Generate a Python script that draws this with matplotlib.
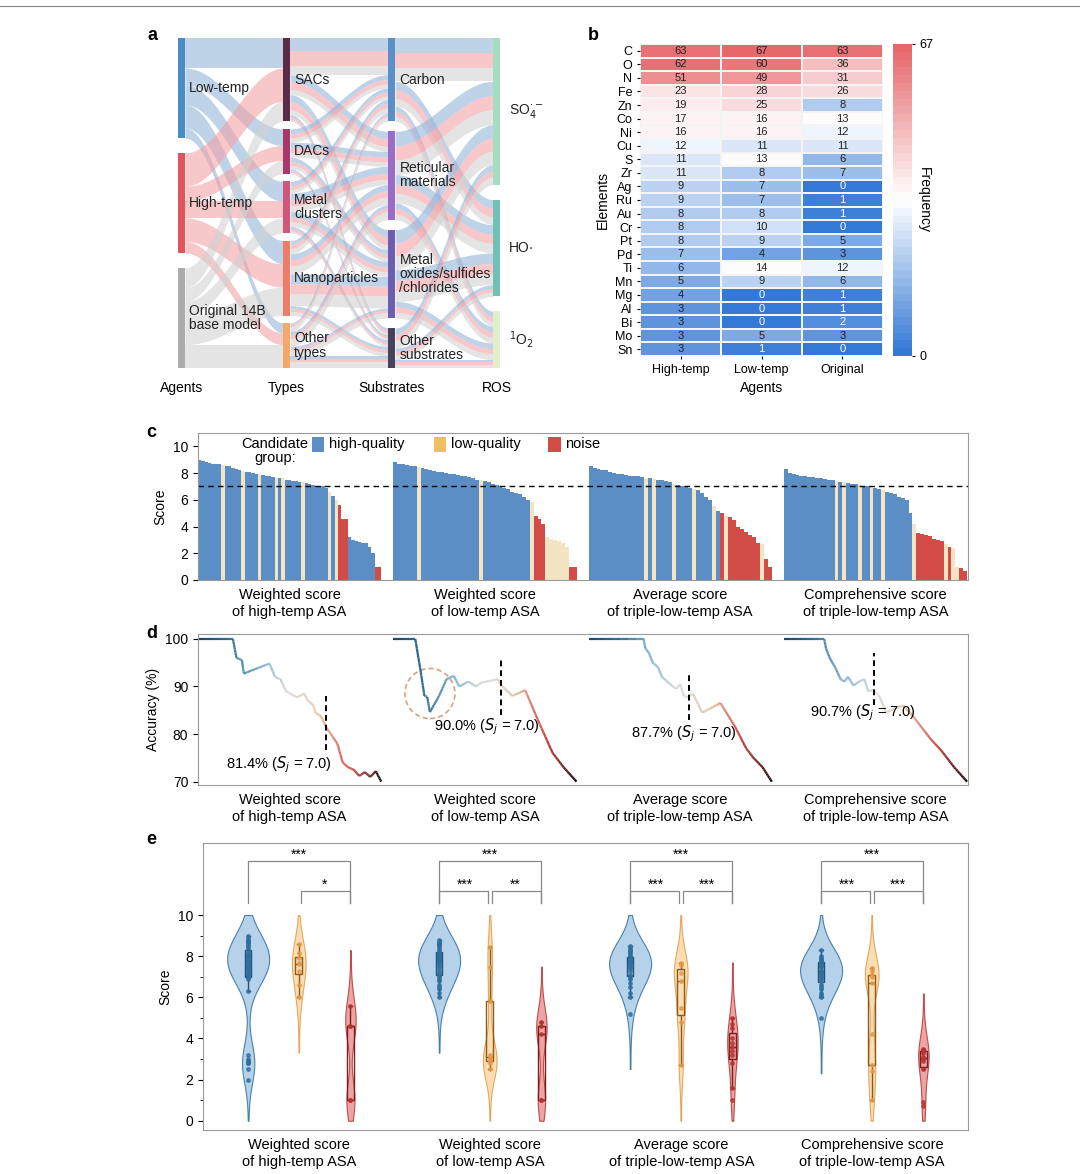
import numpy as np
import matplotlib.pyplot as plt
from matplotlib.collections import LineCollection
from matplotlib.colors import LinearSegmentedColormap, TwoSlopeNorm
from matplotlib.patches import Ellipse, Rectangle

plt.rcParams['font.family'] = ['Liberation Sans', 'DejaVu Sans']
plt.rcParams['font.size'] = 10

# ---------------- data ----------------
agents = ['Low-temp', 'High-temp', 'Original 14B\nbase model']
types = ['SACs', 'DACs', 'Metal\nclusters', 'Nanoparticles', 'Other\ntypes']
substrates = ['Carbon', 'Reticular\nmaterials', 'Metal\noxides/sulfides\n/chlorides', 'Other\nsubstrates']
ros = [r'SO$_4^{\cdot -}$', 'HO·', r'$^1$O$_2$']
agent_type = np.array([[18, 10, 12, 14, 6],
                       [20, 9, 10, 14, 7],
                       [12, 8, 9, 17, 14]], float)
type_sub = np.array([[22, 12, 12, 4],
                     [8, 9, 7, 3],
                     [7, 11, 9, 4],
                     [8, 12, 19, 6],
                     [5, 9, 6, 7]], float)
sub_ros = np.array([[26, 15, 9],
                    [26, 17, 10],
                    [24, 19, 10],
                    [12, 7, 5]], float)

elements = ['C', 'O', 'N', 'Fe', 'Zn', 'Co', 'Ni', 'Cu', 'S', 'Zr', 'Ag', 'Ru', 'Au', 'Cr',
            'Pt', 'Pd', 'Ti', 'Mn', 'Mg', 'Al', 'Bi', 'Mo', 'Sn']
freq_high = [63, 62, 51, 23, 19, 17, 16, 12, 11, 11, 9, 9, 8, 8, 8, 7, 6, 5, 4, 3, 3, 3, 3]
freq_low = [67, 60, 49, 28, 25, 16, 16, 11, 13, 8, 7, 7, 8, 10, 9, 4, 14, 9, 0, 0, 0, 5, 1]
freq_orig = [63, 36, 31, 26, 8, 13, 12, 11, 6, 7, 0, 1, 1, 0, 5, 3, 12, 6, 1, 1, 2, 3, 0]
heat_agents = ['High-temp', 'Low-temp', 'Original']

method_labels = ['Weighted score\nof high-temp ASA', 'Weighted score\nof low-temp ASA',
                 'Average score\nof triple-low-temp ASA', 'Comprehensive score\nof triple-low-temp ASA']
score1 = [9.0, 8.9, 8.8, 8.75, 8.7, 8.7, 8.65, 8.6, 8.55, 8.5, 8.4, 8.3, 8.2, 8.15, 8.1,
          8.05, 8.0, 7.95, 7.9, 7.85, 7.8, 7.75, 7.7, 7.65, 7.6, 7.6, 7.5, 7.45, 7.4, 7.4,
          7.35, 7.3, 7.25, 7.2, 7.1, 7.05, 7.0, 7.0, 6.9, 6.6, 6.3, 6.0, 5.6, 4.6, 4.6,
          3.2, 3.0, 2.9, 2.85, 2.8, 2.8, 2.5, 2.0, 1.0, 1.0]
cats1 = 'hhhhhhhlhh' 'hhhlhhhhlh' 'hhhlhlhhhh' 'hlhhhhhhhl' 'hlnnnhhhhh' 'hhhnn'
score2 = [8.8, 8.7, 8.65, 8.6, 8.55, 8.5, 8.45, 8.4, 8.3, 8.2, 8.15, 8.1, 8.05, 8.0, 7.95,
          7.9, 7.85, 7.8, 7.75, 7.7, 7.6, 7.5, 7.45, 7.4, 7.3, 7.2, 7.1, 7.0, 6.9, 6.8,
          6.6, 6.5, 6.4, 6.2, 6.0, 5.8, 4.8, 4.6, 4.2, 3.2, 3.1, 3.0, 2.9, 2.8, 2.5, 1.0, 1.0]
cats2 = 'hhhhhhlhhh' 'hhhhhhhhhh' 'hhlhhhhhhh' 'hhhhhlnnnl' 'lllllnn'
score3 = [8.5, 8.4, 8.3, 8.25, 8.2, 8.1, 8.0, 7.95, 7.9, 7.85, 7.8, 7.8, 7.75, 7.7, 7.65,
          7.6, 7.55, 7.5, 7.45, 7.4, 7.3, 7.2, 7.1, 7.05, 7.0, 6.9, 6.8, 6.7, 6.5, 6.2,
          6.0, 5.5, 5.2, 5.0, 4.8, 4.7, 4.5, 4.0, 3.8, 3.6, 3.4, 3.2, 2.8, 2.7, 1.6, 1.0]
cats3 = 'hhhhhhhhhh' 'hhhhlhlhhh' 'hlhhhhlhhh' 'hlhnlnnnnn' 'nnnlnn'
score4 = [8.3, 8.0, 7.9, 7.85, 7.8, 7.75, 7.7, 7.7, 7.65, 7.6, 7.55, 7.5, 7.45, 7.4, 7.35,
          7.3, 7.25, 7.2, 7.15, 7.1, 7.05, 7.0, 7.0, 6.9, 6.8, 6.7, 6.6, 6.5, 6.4, 6.2,
          6.1, 6.0, 5.0, 4.2, 3.5, 3.45, 3.4, 3.3, 3.1, 3.0, 2.9, 2.7, 2.5, 2.4, 1.0, 0.9, 0.7]
cats4 = 'hhhhhhhhhh' 'hhhlhlhhhl' 'hhlhhlhhhh' 'hhhlnnnnnn' 'nlnllnn'
scores = [score1, score2, score3, score4]
cats = [cats1, cats2, cats3, cats4]

acc_x1 = [0, 19, 21, 24, 25, 39, 42, 45, 48, 54, 58, 60, 63, 64, 67, 70, 76, 79, 82, 85, 88, 91, 94, 97, 100]
acc_y1 = [100, 100, 96, 95.5, 92.7, 94.8, 92, 91.5, 89, 87.7, 88.5, 87, 86, 84.5, 83.8, 81.4,
          78, 74, 73, 72.5, 71.2, 72, 71, 72.2, 70]
acc_x2 = [0, 12, 15, 17, 18.5, 20, 25, 29, 33, 36, 41, 45, 48, 57, 59, 65, 72, 80, 87, 93, 100]
acc_y2 = [100, 100, 93, 88, 87.8, 84.6, 88, 91.5, 92.2, 90, 91, 90, 90.8, 91.5, 90.2, 88, 89.2,
          82, 76, 73, 70]
acc_x3 = [0, 30, 31, 33, 35, 38, 40, 43, 46, 48, 50, 52, 54, 57, 62, 67, 72, 76, 80, 86, 90, 95, 100]
acc_y3 = [100, 100, 98, 97, 95, 94, 92, 91, 90, 89.5, 90.5, 88, 87.7, 88.5, 84.5, 85.5, 86.5,
          84, 81.5, 77, 75, 73, 70]
acc_x4 = [0, 22, 23, 25, 28, 31, 33, 35, 38, 41, 44, 46, 49, 52, 56, 60, 65, 70, 75, 80, 86, 93, 100]
acc_y4 = [100, 100, 98, 96, 94, 91.5, 91, 92, 90.2, 91, 91.5, 89, 89.3, 88, 84.5, 85.3, 86,
          84, 81.5, 79, 76.5, 73, 70]
acc_x = [acc_x1, acc_x2, acc_x3, acc_x4]
acc_y = [acc_y1, acc_y2, acc_y3, acc_y4]
cut_x = [70, 59, 55, 49]
cut_acc = ['81.4%', '90.0%', '87.7%', '90.7%']

stars_all = ['***', '***', '***', '***']
stars_hl = ['', '***', '***', '***']
stars_ln = ['*', '**', '***', '***']

# ---------------- figure ----------------
fig = plt.figure(figsize=(10.8, 11.74), dpi=100)
W, H = 1080, 1174


def axes_px(x0, y0, x1, y1):
    return fig.add_axes([x0 / W, 1 - y1 / H, (x1 - x0) / W, (y1 - y0) / H])


fig.add_artist(plt.Line2D([0, 1], [1 - 6 / H, 1 - 6 / H], color='#888888', lw=0.8))
for lab, (px, py) in zip('abcde', [(148, 35), (588, 35), (146, 432), (146, 634), (146, 840)]):
    fig.text(px / W, 1 - py / H, lab, fontsize=13, fontweight='bold', va='center')

# ---------------- a: sankey ----------------
ax = axes_px(178, 38, 505, 368)
ax.axis('off')
TOT = 198.0
cols = [0.0, 1.0, 2.0, 3.0]
bw = 0.066
ax.set_xlim(0, 3.11)
ax.set_ylim(TOT, 0)


def tops_of(sizes):
    gap = (TOT - sum(sizes)) / (len(sizes) - 1)
    t, out = 0.0, []
    for s in sizes:
        out.append(t)
        t += s + gap
    return out


sz = [agent_type.sum(1), agent_type.sum(0), type_sub.sum(0), sub_ros.sum(0)]
tops = [tops_of(s) for s in sz]
flow_c = ['#94b4da', '#f3a2a6', '#d2d2d2']


def ribbon(x0, x1, a0, b0, a1, b1, c):
    t = np.linspace(0, 1, 40)
    s = (1 - np.cos(np.pi * t)) / 2
    x = x0 + (x1 - x0) * t
    ax.fill_between(x, a0 + (a1 - a0) * s, b0 + (b1 - b0) * s, color=c, alpha=0.6, lw=0)


def draw_level(lvl, parts):
    n_i, n_j = len(sz[lvl]), len(sz[lvl + 1])
    src, tgt = {}, {}
    for i in range(n_i):
        run = tops[lvl][i]
        for j in range(n_j):
            for a in range(3):
                v = parts.get((i, j, a), 0)
                src[(i, j, a)] = run
                run += v
    for j in range(n_j):
        run = tops[lvl + 1][j]
        for i in range(n_i):
            for a in range(3):
                v = parts.get((i, j, a), 0)
                tgt[(i, j, a)] = run
                run += v
    for k, v in parts.items():
        if v <= 0:
            continue
        ribbon(cols[lvl] + bw, cols[lvl + 1], src[k], src[k] + v, tgt[k], tgt[k] + v, flow_c[k[2]])


p1 = {(a, t, a): agent_type[a, t] for a in range(3) for t in range(5)}
type_share = agent_type / agent_type.sum(0)
p2 = {(t, s, a): type_sub[t, s] * type_share[a, t] for t in range(5) for s in range(4) for a in range(3)}
sub_agent = np.array([[sum(type_sub[t, s] * type_share[a, t] for t in range(5)) for s in range(4)] for a in range(3)])
sub_share = sub_agent / sub_agent.sum(0)
p3 = {(s, r, a): sub_ros[s, r] * sub_share[a, s] for s in range(4) for r in range(3) for a in range(3)}
draw_level(0, p1)
draw_level(1, p2)
draw_level(2, p3)

node_c = [['#4a8dc4', '#e0545c', '#ababab'],
          ['#5a2c48', '#a8386a', '#cf5779', '#ec7d68', '#f3a96a'],
          ['#5b8fc8', '#9a6bc9', '#6a5db2', '#46425e'],
          ['#a6dcc0', '#6fc2b2', '#e2efcf']]
names = [agents, types, substrates, ros]
for lvl in range(4):
    for k, (tp, s) in enumerate(zip(tops[lvl], sz[lvl])):
        ax.add_patch(Rectangle((cols[lvl], tp), bw, s, color=node_c[lvl][k], lw=0))
        if lvl < 3:
            ax.text(cols[lvl] + bw + 0.04, tp + s / 2, names[lvl][k], va='center', ha='left',
                    fontsize=10, color='#222222', linespacing=1.0)
        else:
            ax.text(cols[lvl] + bw + 0.08, tp + s / 2, names[lvl][k], va='center', ha='left',
                    fontsize=10, color='#222222', clip_on=False)
for c, lab in zip(cols, ['Agents', 'Types', 'Substrates', 'ROS']):
    ax.text(c + bw / 2, TOT + 8, lab, ha='center', va='top', fontsize=10, clip_on=False)

# ---------------- b: heatmap ----------------
axh = axes_px(640, 44, 883, 356)
axc = axes_px(893, 44, 912, 356)
mat = np.array([freq_high, freq_low, freq_orig]).T
cmap = LinearSegmentedColormap.from_list('bwr2', ['#3479d6', '#ffffff', '#e7676b']).resampled(40)
norm = TwoSlopeNorm(vmin=0, vcenter=13, vmax=67)
mesh = axh.pcolormesh(mat, cmap=cmap, norm=norm, edgecolors='#f4f4f4', linewidth=0.3)
axh.set_ylim(len(elements), 0)
for i in range(mat.shape[0]):
    for j in range(mat.shape[1]):
        v = mat[i, j]
        axh.text(j + 0.5, i + 0.5, str(v), ha='center', va='center', fontsize=8,
                 color='white' if v <= 2 else '#222222')
axh.set_yticks(np.arange(len(elements)) + 0.5)
axh.set_yticklabels(elements, fontsize=9)
axh.set_xticks(np.arange(3) + 0.5)
axh.set_xticklabels(heat_agents, fontsize=9)
axh.tick_params(length=2)
axh.set_xlabel('Agents', fontsize=10)
axh.set_ylabel('Elements', fontsize=10)
for sp in axh.spines.values():
    sp.set_visible(False)
cb = fig.colorbar(mesh, cax=axc, ticks=[0, 67])
cb.outline.set_visible(False)
cb.ax.tick_params(labelsize=9, length=2)
cb.set_label('Frequency', rotation=270, labelpad=-2, fontsize=10)

# ---------------- c: bars ----------------
bar_c = {'h': '#5b8ec4', 'l': '#f3e4c4', 'n': '#d24c47'}
gw, gg = 0.238, 0.0156
axb = axes_px(198, 433, 968, 580)
for g in range(4):
    vals = scores[g]
    n = len(vals)
    x0 = g * (gw + gg)
    wdt = gw / n
    xs = x0 + wdt * (np.arange(n) + 0.5)
    axb.bar(xs, vals, width=wdt, color=[bar_c[c] for c in cats[g]], lw=0)
axb.axhline(7, color='black', ls=(0, (4, 3)), lw=1)
axb.set_xlim(0, 1)
axb.set_ylim(0, 11)
axb.set_yticks([0, 2, 4, 6, 8, 10])
axb.set_ylabel('Score')
centers = [g * (gw + gg) + gw / 2 for g in range(4)]
axb.set_xticks(centers)
axb.set_xticklabels(method_labels, fontsize=10.5)
axb.tick_params(axis='x', length=0, pad=6)
for sp in axb.spines.values():
    sp.set_color('#999999')
axb.text(0.1, 0.975, 'Candidate\ngroup:', transform=axb.transAxes, ha='center', va='top',
         fontsize=10.5, linespacing=1.0)
for xx, key, lab in [(0.148, 'h', 'high-quality'), (0.306, 'l', 'low-quality'), (0.455, 'n', 'noise')]:
    axb.add_patch(Rectangle((xx, 0.87), 0.016, 0.1, transform=axb.transAxes,
                            color=bar_c[key] if key != 'l' else '#f0c060', lw=0))
    axb.text(xx + 0.022, 0.925, lab, transform=axb.transAxes, va='center', fontsize=10.5)

# ---------------- d: accuracy ----------------
axd = axes_px(198, 634, 968, 785)
acc_cmap = LinearSegmentedColormap.from_list(
    'acc', ['#16476f', '#2f6f98', '#7eb0c8', '#dcdcdc', '#e3c5a5', '#d24242', '#1c0a0a'])
cut_span = [(76.6, 88), (84, 95.5), (83, 93), (86, 97)]
label_pos = [(44, 73.5), (51, 81.5), (52, 80), (43, 84.5)]
for g in range(4):
    x0 = g * (gw + gg)
    xs = np.array(acc_x[g], float) / 100
    ys = np.array(acc_y[g], float)
    segs, cols_ = [], []
    for k in range(len(xs) - 1):
        t = np.linspace(0, 1, 8)
        px = xs[k] + (xs[k + 1] - xs[k]) * t
        py = ys[k] + (ys[k + 1] - ys[k]) * t
        for m in range(7):
            segs.append([(x0 + px[m] * gw, py[m]), (x0 + px[m + 1] * gw, py[m + 1])])
            cols_.append(acc_cmap((px[m] + px[m + 1]) / 2))
    axd.add_collection(LineCollection(segs, colors=cols_, lw=1.6))
    cx = x0 + cut_x[g] / 100 * gw
    axd.plot([cx, cx], cut_span[g], color='black', ls=(0, (3, 2)), lw=1.4)
    lx, ly = label_pos[g]
    axd.text(x0 + lx / 100 * gw, ly, cut_acc[g] + r' ($S_j$ = 7.0)', ha='center', va='center',
             fontsize=10.5)
axd.add_patch(Ellipse((1 * (gw + gg) + 0.2 * gw, 88.5), 0.065, 10.5, fill=False,
                      ec='#d8a07a', ls=(0, (3, 2)), lw=1.2))
axd.set_xlim(0, 1)
axd.set_ylim(69.3, 101)
axd.set_yticks([70, 80, 90, 100])
axd.set_ylabel('Accuracy (%)')
axd.set_xticks(centers)
axd.set_xticklabels(method_labels, fontsize=10.5)
axd.tick_params(axis='x', length=0, pad=6)
for sp in axd.spines.values():
    sp.set_color('#999999')

# ---------------- e: violins ----------------
axe = axes_px(203, 843, 968, 1130)
vio_face = {'h': '#a9cbe7', 'l': '#fbd7a6', 'n': '#ea9494'}
vio_edge = {'h': '#2f6f9f', 'l': '#e39a48', 'n': '#b83434'}
box_edge = {'h': '#1f4f7a', 'l': '#8a5a1a', 'n': '#7a1e1e'}
offs = {'h': 0, 'l': 93, 'n': 188}
max_hw = {'h': 38, 'l': 12, 'n': 9}
bwid = 0.9
for g in range(4):
    for key in 'hln':
        vals = np.array([v for v, c in zip(scores[g], cats[g]) if c == key])
        yg = np.linspace(0, 10, 300)
        d = np.exp(-0.5 * ((yg[:, None] - vals[None, :]) / bwid) ** 2).sum(1)
        xc = 351 * g + offs[key]
        lo, hi = max(0, vals.min() - 3 * bwid), min(10, vals.max() + 3 * bwid)
        m = (yg >= lo) & (yg <= hi)
        hw = d[m] / d.max() * max_hw[key] + 0.6
        axe.fill_betweenx(yg[m], xc - hw, xc + hw, color=vio_face[key], ec=vio_edge[key],
                          lw=0.8, alpha=0.85)
        bp = axe.boxplot([vals], positions=[xc], widths=12, showfliers=False, patch_artist=True,
                         manage_ticks=False)
        for b in bp['boxes']:
            b.set(facecolor='none', edgecolor=box_edge[key], lw=1)
        for part in bp['whiskers'] + bp['caps'] + bp['medians']:
            part.set(color=box_edge[key], lw=1)
        axe.scatter(np.full(len(vals), xc), vals, s=6, color=vio_edge[key], zorder=3, alpha=0.8)
for g in range(4):
    x0 = 351 * g
    xa, xb, xcn = x0, x0 + 93, x0 + 188
    axe.plot([xa, xa, xcn, xcn], [10.6, 12.63, 12.63, 10.6], color='#888888', lw=0.9)
    axe.text((xa + xcn) / 2, 12.95, stars_all[g], ha='center', va='center', fontsize=10)
    if stars_hl[g]:
        axe.plot([xa, xa, xb - 4, xb - 4], [10.6, 11.17, 11.17, 10.6], color='#888888', lw=0.9)
        axe.text((xa + xb) / 2, 11.45, stars_hl[g], ha='center', va='center', fontsize=10)
    axe.plot([xb + 4, xb + 4, xcn, xcn], [10.6, 11.17, 11.17, 10.6], color='#888888', lw=0.9)
    axe.text((xb + xcn) / 2, 11.45, stars_ln[g], ha='center', va='center', fontsize=10)
axe.set_xlim(-83, 1323)
axe.set_ylim(-0.45, 13.5)
axe.set_yticks([0, 2, 4, 6, 8, 10])
axe.set_yticks([1, 3, 5, 7, 9], minor=True)
axe.set_ylabel('Score')
axe.set_xticks([351 * g + 94 for g in range(4)])
axe.set_xticklabels(method_labels, fontsize=10.5)
axe.tick_params(axis='x', length=0, pad=6)
for sp in axe.spines.values():
    sp.set_color('#999999')

fig.savefig('out.png', dpi=100)
